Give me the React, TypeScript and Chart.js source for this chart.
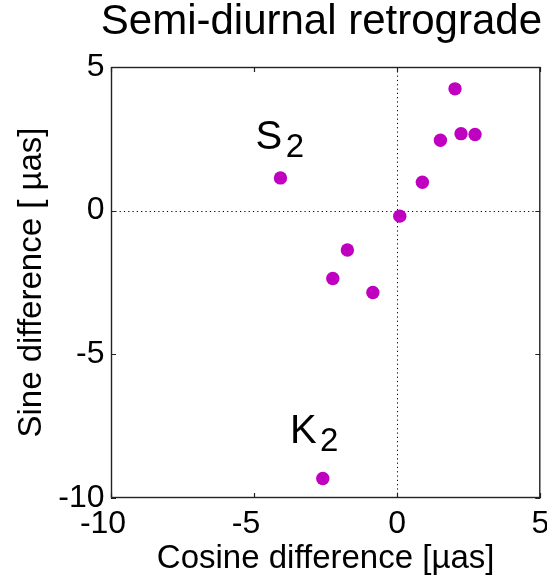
import React, { useEffect, useRef } from 'react';
import { Chart, registerables } from 'chart.js';

Chart.register(...registerables);

// ---- data ----
const cosineDiff = [-4.08, -2.6, -2.25, -1.74, -0.85, 0.09, 0.88, 1.51, 2.02, 2.23, 2.72];
const sineDiff = [1.14, -9.32, -2.36, -1.37, -2.85, -0.19, 0.99, 2.45, 4.24, 2.68, 2.65];

const xTicks = [-10, -5, 0, 5];
const yTicks = [-10, -5, 0, 5];

const titleText = 'Semi-diurnal retrograde';
const xTitleText = 'Cosine difference [µas]';
const yTitleText = 'Sine difference [ µas]';

// tide labels (main letter + subscript), anchored in data units
const tideMain = ['S', 'K'];
const tideSub = ['2', '2'];
const tideLabelX = [-4.95, -3.75];
const tideLabelY = [2.15, -8.07];

const FONT = '"Liberation Sans", Arial, Helvetica, sans-serif';
const POINT_COLOR = 'rgb(192,0,192)';

const framePlugin = {
  id: 'framePlugin',
  beforeDatasetsDraw(chart: any) {
    const { ctx, chartArea: a, scales } = chart;
    const xs = scales.x;
    const ys = scales.y;
    ctx.save();
    // dotted zero lines
    ctx.strokeStyle = '#000';
    ctx.lineWidth = 1;
    ctx.setLineDash([1.2, 3.1]);
    const x0 = Math.round(xs.getPixelForValue(0)) + 0.5;
    const y0 = Math.round(ys.getPixelForValue(0)) + 0.5;
    ctx.beginPath();
    ctx.moveTo(x0, a.top);
    ctx.lineTo(x0, a.bottom);
    ctx.moveTo(a.left, y0);
    ctx.lineTo(a.right, y0);
    ctx.stroke();
    ctx.setLineDash([]);

    // frame
    ctx.strokeStyle = '#222';
    ctx.lineWidth = 1.4;
    ctx.strokeRect(a.left + 0.5, a.top + 0.5, a.right - a.left - 1, a.bottom - a.top - 1);

    // inward tick marks on all four sides
    const tl = 5;
    ctx.lineWidth = 1.2;
    ctx.beginPath();
    xTicks.forEach((v) => {
      const px = Math.round(xs.getPixelForValue(v)) + 0.5;
      ctx.moveTo(px, a.bottom);
      ctx.lineTo(px, a.bottom - tl);
      ctx.moveTo(px, a.top);
      ctx.lineTo(px, a.top + tl);
    });
    yTicks.forEach((v) => {
      const py = Math.round(ys.getPixelForValue(v)) + 0.5;
      ctx.moveTo(a.left, py);
      ctx.lineTo(a.left + tl, py);
      ctx.moveTo(a.right, py);
      ctx.lineTo(a.right - tl, py);
    });
    ctx.stroke();
    ctx.restore();
  },
  afterDatasetsDraw(chart: any) {
    const { ctx, scales } = chart;
    const xs = scales.x;
    const ys = scales.y;
    ctx.save();
    ctx.fillStyle = '#000';
    ctx.textAlign = 'left';
    ctx.textBaseline = 'alphabetic';
    tideMain.forEach((m, i) => {
      const px = xs.getPixelForValue(tideLabelX[i]);
      const py = ys.getPixelForValue(tideLabelY[i]);
      ctx.font = `40px ${FONT}`;
      ctx.fillText(m, px, py);
      const w = ctx.measureText(m).width;
      ctx.font = `33px ${FONT}`;
      ctx.fillText(tideSub[i], px + w + 3.5, py + 8.5);
    });
    ctx.restore();
  },
};

export default function App() {
  const canvasRef = useRef<HTMLCanvasElement | null>(null);

  useEffect(() => {
    const canvas = canvasRef.current;
    if (!canvas) return;
    const chart = new Chart(canvas, {
      type: 'scatter',
      data: {
        datasets: [
          {
            label: 'differences',
            data: cosineDiff.map((c, i) => ({ x: c, y: sineDiff[i] })),
            backgroundColor: POINT_COLOR,
            borderColor: POINT_COLOR,
            borderWidth: 0,
            pointRadius: 6.7,
            pointHoverRadius: 6.7,
          },
        ],
      },
      options: {
        responsive: false,
        animation: false,
        devicePixelRatio: 1,
        layout: { padding: { left: 0, right: 5, top: 0, bottom: 0 } },
        plugins: {
          legend: { display: false },
          tooltip: { enabled: false },
          title: {
            display: true,
            text: titleText,
            align: 'end',
            color: '#000',
            font: { family: FONT, size: 42, weight: 'normal', lineHeight: 1 },
            padding: { top: 1.5, bottom: 23.5 },
          },
        },
        scales: {
          x: {
            type: 'linear',
            min: -10,
            max: 5,
            afterBuildTicks: (s: any) => {
              s.ticks = xTicks.map((v) => ({ value: v }));
            },
            afterFit: (s: any) => {
              s.height = 84;
              s.paddingLeft = 0;
              s.paddingRight = 0;
            },
            grid: { display: false, drawTicks: false },
            border: { display: false },
            ticks: {
              color: '#000',
              padding: 6.5,
              maxRotation: 0,
              autoSkip: false,
              font: { family: FONT, size: 32 },
              // negative labels sit slightly left of their tick in the reference
              callback: (v: any) => (Number(v) < 0 ? `${v}\u2002` : `${v}`),
            },
            title: {
              display: true,
              text: xTitleText,
              color: '#000',
              font: { family: FONT, size: 33 },
              padding: { top: 0, bottom: 3.2 },
            },
          },
          y: {
            type: 'linear',
            min: -10,
            max: 5,
            afterBuildTicks: (s: any) => {
              s.ticks = yTicks.map((v) => ({ value: v }));
            },
            afterFit: (s: any) => {
              s.width = 111;
              s.paddingTop = 0;
              s.paddingBottom = 0;
            },
            grid: { display: false, drawTicks: false },
            border: { display: false },
            ticks: {
              color: '#000',
              padding: 6.5,
              autoSkip: false,
              font: { family: FONT, size: 32 },
            },
            title: {
              display: true,
              text: yTitleText,
              color: '#000',
              font: { family: FONT, size: 33 },
              padding: { top: 11.7, bottom: 0 },
            },
          },
        },
      },
      plugins: [framePlugin],
    } as any);
    return () => chart.destroy();
  }, []);

  return (
    <div style={{ position: 'absolute', left: 0, top: 0, width: 547, height: 582, background: '#fff' }}>
      <canvas ref={canvasRef} width={547} height={582} />
    </div>
  );
}
